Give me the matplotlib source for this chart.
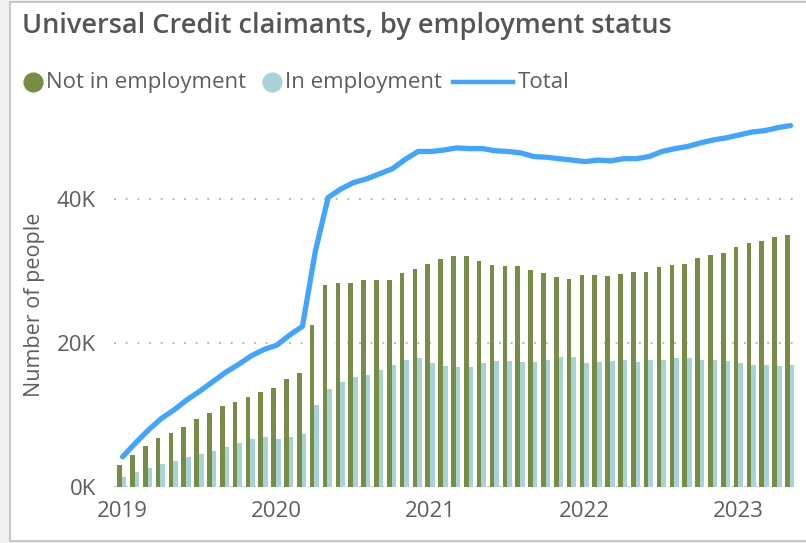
import numpy as np
import matplotlib.pyplot as plt
from matplotlib.lines import Line2D
from matplotlib.patches import Rectangle

plt.rcParams['font.family'] = ['Open Sans', 'DejaVu Sans']
plt.rcParams['lines.scale_dashes'] = False

# monthly, Jan 2019 .. May 2023 (thousands of people)
not_employed = [3.0, 4.4, 5.7, 6.8, 7.5, 8.4, 9.4, 10.3, 11.2, 11.8, 12.5, 13.2,
                13.8, 15.0, 15.8, 22.5, 28.1, 28.4, 28.4, 28.7, 28.7, 28.8, 29.7, 30.3,
                31.0, 31.6, 32.1, 32.1, 31.4, 30.9, 30.7, 30.7, 30.1, 29.7, 29.2, 28.9,
                29.5, 29.5, 29.3, 29.6, 29.8, 29.9, 30.5, 30.8, 31.0, 31.8, 32.2, 32.5,
                33.4, 33.9, 34.1, 34.7, 35.0]
in_employment = [1.4, 2.1, 2.6, 3.2, 3.6, 4.2, 4.6, 5.0, 5.5, 6.1, 6.6, 6.9,
                 6.7, 7.0, 7.4, 11.4, 13.6, 14.6, 15.3, 15.6, 16.3, 16.9, 17.6, 17.9,
                 17.2, 16.8, 16.6, 16.6, 17.2, 17.5, 17.5, 17.3, 17.3, 17.6, 18.0, 18.0,
                 17.2, 17.4, 17.5, 17.6, 17.4, 17.6, 17.7, 17.9, 17.9, 17.6, 17.6, 17.5,
                 17.2, 16.9, 17.0, 16.8, 16.9]
total = [4.2, 6.1, 7.9, 9.5, 10.7, 12.1, 13.3, 14.6, 15.9, 17.0, 18.2, 19.1,
         19.7, 21.1, 22.3, 32.7, 40.2, 41.4, 42.3, 42.8, 43.5, 44.2, 45.5, 46.6,
         46.6, 46.8, 47.1, 47.0, 47.0, 46.7, 46.6, 46.4, 45.9, 45.8, 45.6, 45.4,
         45.2, 45.4, 45.3, 45.6, 45.6, 45.9, 46.6, 47.0, 47.3, 47.8, 48.2, 48.5,
         48.9, 49.3, 49.5, 49.9, 50.2]
year_ticks = [0, 12, 24, 36, 48]
year_labels = ['2019', '2020', '2021', '2022', '2023']
y_ticks = [0, 20, 40]
y_labels = ['0K', '20K', '40K']

green = '#778C44'
light_blue = '#A7D2D7'
line_blue = '#41A5FF'
text_grey = '#605E5C'

W, H = 806, 543


def fx(px):
    return px / W


def fy(py):
    return 1 - py / H


fig = plt.figure(figsize=(W / 100, H / 100), dpi=100)
fig.patch.set_facecolor('#EFEFEF')
fig.add_artist(Rectangle((fx(10), fy(541)), 1.0, 539 / H, transform=fig.transFigure,
                         facecolor='white', edgecolor='#BDBDBD', linewidth=1.2, zorder=0))

ax = fig.add_axes([fx(114), fy(487), (795 - 114) / W, (487 - 109) / H])
ax.set_facecolor('none')

x = np.arange(len(not_employed))
w = 0.36
ax.bar(x - 0.19, not_employed, width=w, color=green, zorder=2)
ax.bar(x + 0.17, in_employment, width=w, color=light_blue, zorder=2)
ax.plot(x + 0.05, total, color=line_blue, lw=3.8, solid_capstyle='round',
        solid_joinstyle='round', zorder=3)

ax.set_xlim(-0.62, 52.4)
ax.set_ylim(0, 52.5)
ax.set_xticks(year_ticks)
ax.set_xticklabels(year_labels)
ax.set_yticks(y_ticks)
ax.set_yticklabels(y_labels)
ax.tick_params(length=0, labelsize=16, colors=text_grey)
ax.tick_params(axis='x', pad=10)
ax.tick_params(axis='y', pad=13)
ax.grid(axis='y', color='#BBBBBB', linestyle=(0, (1.4, 7.0)), linewidth=1.5, zorder=1)
for s in ax.spines.values():
    s.set_visible(False)

fig.text(fx(35), fy(305), 'Number of people', rotation=90, fontsize=15.5,
         color=text_grey, ha='center', va='center')

fig.text(fx(22), fy(26), 'Universal Credit claimants, by employment status',
         fontsize=19.5, fontweight='semibold', color='#555555', va='center', ha='left')

# legend, drawn by hand to keep the reference spacing
leg_y = fy(82)
fig.add_artist(Line2D([fx(33)], [leg_y], marker='o', markersize=13.5, color=green,
                      linestyle='none', transform=fig.transFigure))
fig.text(fx(46), leg_y, 'Not in employment', fontsize=16, color=text_grey, va='center')
fig.add_artist(Line2D([fx(272)], [leg_y], marker='o', markersize=13.5, color=light_blue,
                      linestyle='none', transform=fig.transFigure))
fig.text(fx(285), leg_y, 'In employment', fontsize=16, color=text_grey, va='center')
fig.add_artist(Line2D([fx(453), fx(513)], [leg_y, leg_y], color=line_blue, lw=3.2,
                      transform=fig.transFigure))
fig.text(fx(518), leg_y, 'Total', fontsize=16, color=text_grey, va='center')

fig.savefig('out.png', dpi=100, facecolor=fig.get_facecolor())
